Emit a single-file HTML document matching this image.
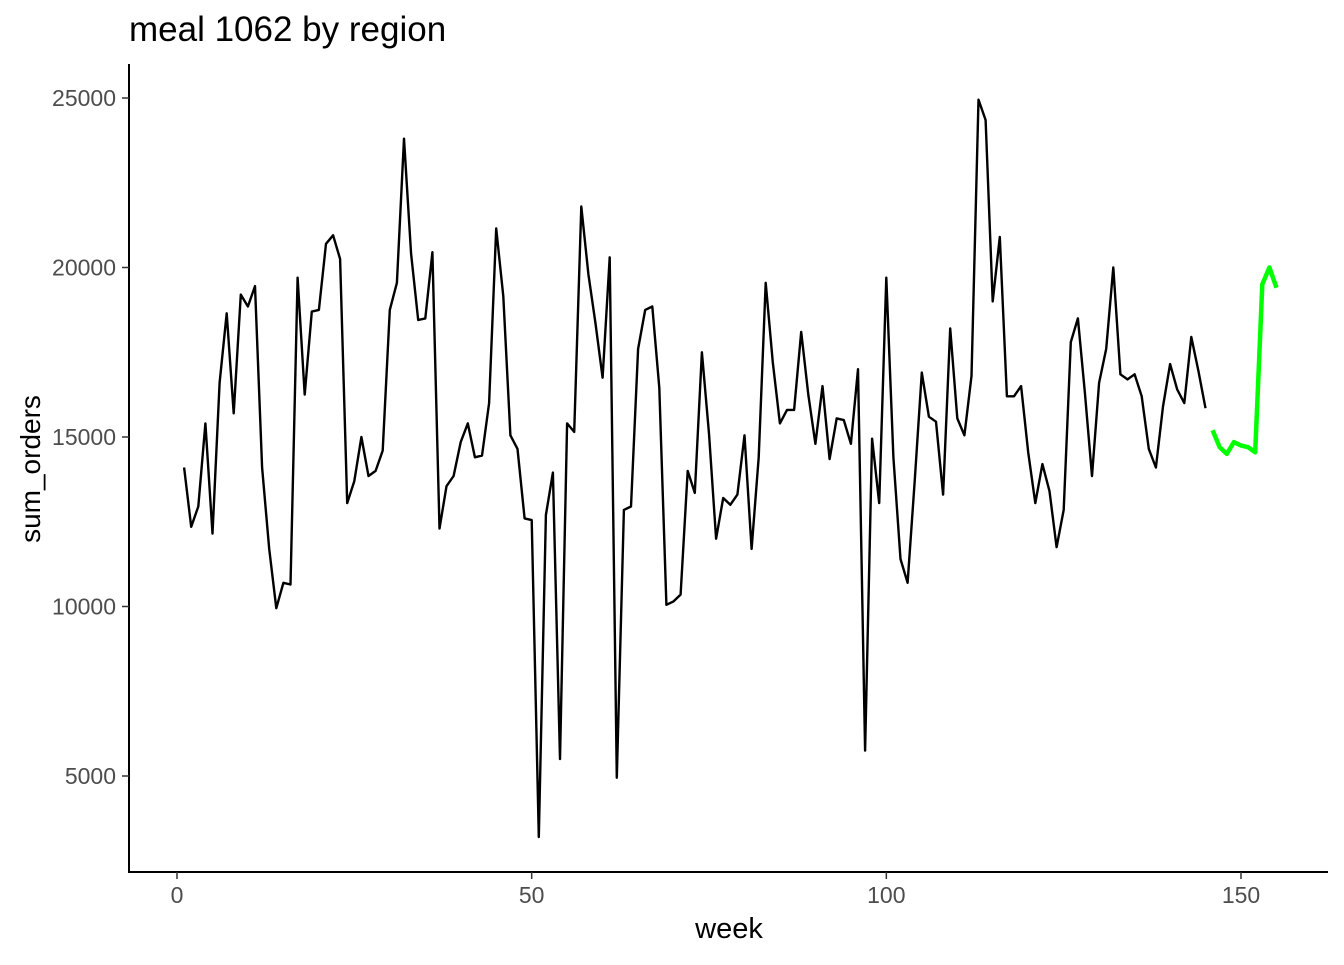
<!DOCTYPE html>
<html><head><meta charset="utf-8"><style>
html,body{margin:0;padding:0;background:#fff;}
svg text{font-family:"Liberation Sans",sans-serif;}
</style></head><body>
<svg id="chart" width="1344" height="960" xmlns="http://www.w3.org/2000/svg">
<rect width="1344" height="960" fill="#fff"/>
<text x="129" y="41" font-size="35" fill="#000">meal 1062 by region</text>
<g id="axes"></g>
<g id="marks"></g>
<text x="729" y="938" font-size="29" text-anchor="middle">week</text>
<text transform="translate(40,469) rotate(-90)" font-size="28" text-anchor="middle">sum_orders</text>
</svg>
<script>
const histValues = [14100,12350,12950,15400,12150,16600,18650,15700,19200,18850,19450,14100,11700,9950,10700,10650,19700,16250,18700,18750,20700,20950,20250,13050,13700,15000,13850,14000,14600,18750,19550,23800,20400,18450,18500,20450,12300,13550,13850,14850,15400,14400,14450,16000,21150,19150,15050,14650,12600,12550,3200,12700,13950,5500,15400,15150,21800,19800,18350,16750,20300,4950,12850,12950,17600,18750,18850,16450,10050,10150,10350,14000,13350,17500,15100,12000,13200,13000,13300,15050,11700,14400,19550,17200,15400,15800,15800,18100,16250,14800,16500,14350,15550,15500,14800,17000,5750,14950,13050,19700,14400,11400,10700,13700,16900,15600,15450,13300,18200,15550,15050,16800,24950,24350,19000,20900,16200,16200,16500,14550,13050,14200,13400,11750,12850,17800,18500,16300,13850,16600,17600,20000,16850,16700,16850,16200,14650,14100,15900,17150,16400,16000,17950,16950,15850];
const histStartWeek = 1;
const forecastValues = [15200,14700,14500,14850,14750,14700,14550,19500,20000,19400];
const forecastStartWeek = 146;
const xTicks = [0,50,100,150];
const yTicks = [5000,10000,15000,20000,25000];

const NS = "http://www.w3.org/2000/svg";
const xs = w => 177 + (w - 0) * (1241 - 177) / 150;
const ys = v => 776 - (v - 5000) * (776 - 98) / 20000;
const axes = document.getElementById('axes');
const marks = document.getElementById('marks');
function mk(tag, attrs, parent){const e=document.createElementNS(NS,tag);for(const k in attrs)e.setAttribute(k,attrs[k]);parent.appendChild(e);return e;}

const yl = mk('line',{x1:129,y1:64,x2:129,y2:873,stroke:'#000','stroke-width':2},axes);


const xl = mk('line',{x1:128,y1:872,x2:1328,y2:872,stroke:'#000','stroke-width':2},axes);



xTicks.forEach(t=>{
  const x=xs(t);
  const tk=mk('line',{x1:x,y1:872,x2:x,y2:879,stroke:'#333','stroke-width':1.5},axes);
  
  
  const tx=mk('text',{x:x,y:903,'font-size':23,fill:'#4d4d4d','text-anchor':'middle'},axes);
  tx.textContent=t;
  
  
});
yTicks.forEach(t=>{
  const y=ys(t);
  const tk=mk('line',{x1:122,y1:y,x2:129,y2:y,stroke:'#333','stroke-width':1.5},axes);
  
  
  const tx=mk('text',{x:116,y:y+8,'font-size':23,fill:'#4d4d4d','text-anchor':'end'},axes);
  tx.textContent=t;
  
  
});

const hp = histValues.map((v,i)=>xs(histStartWeek+i).toFixed(1)+','+ys(v).toFixed(1)).join(' ');
const h = mk('polyline',{points:hp,fill:'none',stroke:'#000','stroke-width':2.4,'stroke-linejoin':'round'},marks);


const fp = forecastValues.map((v,i)=>xs(forecastStartWeek+i).toFixed(1)+','+ys(v).toFixed(1)).join(' ');
const f = mk('polyline',{points:fp,fill:'none',stroke:'#00ff00','stroke-width':4.5,'stroke-linejoin':'round'},marks);


</script>
</body></html>
